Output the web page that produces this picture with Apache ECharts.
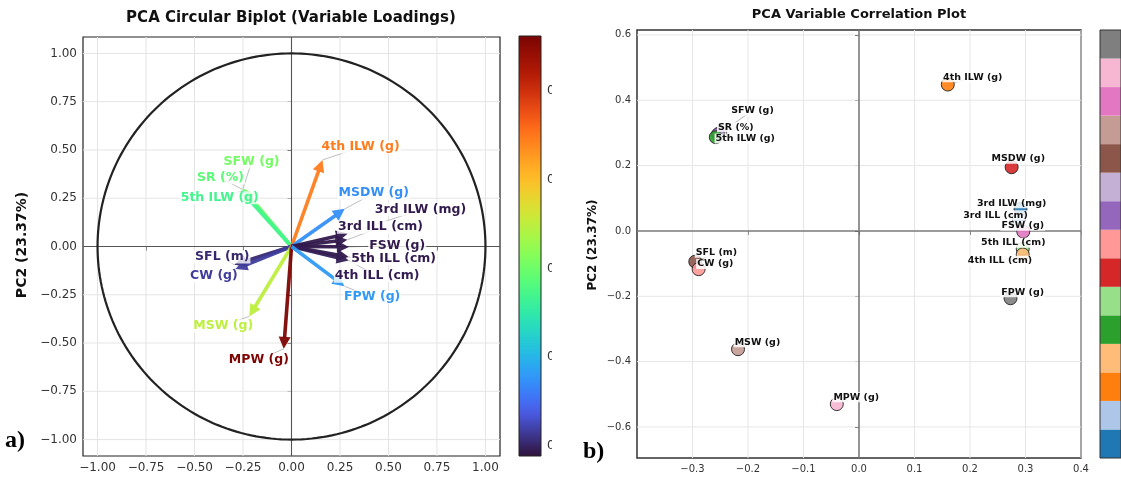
<!DOCTYPE html>
<html><head><meta charset="utf-8">
<script src="https://cdn.jsdelivr.net/npm/echarts@6/dist/echarts.min.js"></script>
<style>html,body{margin:0;padding:0;background:#fff}#c{width:1121px;height:477px}</style>
</head><body><div id="c"></div>
<script>
// ---------------- DATA ----------------
const variables = ['SFW (g)','SR (%)','5th ILW (g)','SFL (m)','CW (g)','MSW (g)','MPW (g)','4th ILW (g)','MSDW (g)','3rd ILW (mg)','3rd ILL (cm)','FSW (g)','5th ILL (cm)','4th ILL (cm)','FPW (g)'];
const pc1 = [-0.250,-0.254,-0.258,-0.295,-0.289,-0.218,-0.040,0.160,0.275,0.291,0.288,0.296,0.295,0.295,0.273];
const pc2 = [0.300,0.296,0.287,-0.094,-0.117,-0.362,-0.530,0.448,0.195,0.067,0.035,-0.002,-0.055,-0.072,-0.206];
const colorVals = [0.305,0.287,0.270,0.104,0.117,0.349,0.560,0.446,0.173,0.094,0.094,0.094,0.094,0.096,0.181];
const categoryIndex = [9,8,4,10,7,11,13,2,6,0,1,12,5,3,14];
// label anchor positions (data units) for each panel
const biplotLabelX = [-0.206,-0.366,-0.370,-0.357,-0.400,-0.352,-0.168,0.356,0.424,0.665,0.459,0.545,0.527,0.442,0.416];
const biplotLabelY = [0.437,0.356,0.252,-0.055,-0.154,-0.410,-0.587,0.515,0.276,0.190,0.100,0.005,-0.064,-0.154,-0.262];
const corrLabelX = [-0.192,-0.222,-0.205,-0.257,-0.259,-0.183,-0.005,0.205,0.287,0.275,0.246,0.295,0.278,0.254,0.295];
const corrLabelY = [0.368,0.317,0.283,-0.067,-0.101,-0.341,-0.509,0.470,0.221,0.085,0.048,0.016,-0.036,-0.091,-0.188];
const biplotTicks = [-1,-0.75,-0.5,-0.25,0,0.25,0.5,0.75,1];
const corrXTicks = [-0.3,-0.2,-0.1,0,0.1,0.2,0.3,0.4];
const corrYTicks = [-0.6,-0.4,-0.2,0,0.2,0.4,0.6];
const cbarTicks = [0.1,0.2,0.3,0.4,0.5];
const cbarMin = 0.0887, cbarMax = 0.562;
const categoryCount = 15;

// ---------------- STYLE HELPERS ----------------
const tab20 = ['#1f77b4','#aec7e8','#ff7f0e','#ffbb78','#2ca02c','#98df8a','#d62728','#ff9896','#9467bd','#c5b0d5','#8c564b','#c49c94','#e377c2','#f7b6d2','#7f7f7f'];
function turboPoly(t){
 const r=0.13572138+t*(4.61539260+t*(-42.66032258+t*(132.13108234+t*(-152.94239396+t*59.28637943))));
 const g=0.09140261+t*(2.19418839+t*(4.84296658+t*(-14.18503333+t*(4.27729857+t*2.82956604))));
 const b=0.10667330+t*(12.64194608+t*(-60.58204836+t*(110.36276771+t*(-89.90310912+t*27.34824973))));
 return [r,g,b].map(x=>255*Math.max(0,Math.min(1,x)));}
function lerp(a,b,f){return a.map((v,i)=>v+(b[i]-v)*f);}
function turbo(t){t=Math.max(0,Math.min(1,t)); let c;
 if(t<0.1){c=lerp([48,18,59],turboPoly(0.1),t/0.1);}
 else if(t>0.92){c=lerp(turboPoly(0.92),[122,4,3],(t-0.92)/0.08);}
 else c=turboPoly(t);
 return 'rgb('+c.map(v=>Math.round(v)).join(',')+')';}
function cmap(v){return turbo((v-cbarMin)/(cbarMax-cbarMin));}
function fmt(v,d){const s=Math.abs(v).toFixed(d);return (v<-1e-9?'\u2212':'')+s;}
const FONT='DejaVu Sans';

function gridLines(xi, ticks, vertical, color, zeroColor, w, zw){
 return {type:'custom', xAxisIndex:xi, yAxisIndex:xi, z:1, silent:true,
  data: ticks.map(v=>[v]),
  renderItem:(params,api)=>{
   const cs=params.coordSys; const v=api.value(0);
   const isZero=Math.abs(v)<1e-9;
   let shape;
   if(vertical){const x=api.coord([v,0])[0]; shape={x1:x,y1:cs.y,x2:x,y2:cs.y+cs.height};}
   else{const y=api.coord([0,v])[1]; shape={x1:cs.x,y1:y,x2:cs.x+cs.width,y2:y};}
   return {type:'line', shape, z2: isZero?5:0, style:{stroke:isZero?zeroColor:color, lineWidth:isZero?zw:w}};
  }};
}

const chart = echarts.init(document.getElementById('c'), null, {renderer:'canvas'});

const biplotData = variables.map((n,i)=>[pc1[i],pc2[i],colorVals[i],biplotLabelX[i],biplotLabelY[i]]);
const corrData = variables.map((n,i)=>[pc1[i],pc2[i],categoryIndex[i],corrLabelX[i],corrLabelY[i]]);

const axisBase = {axisLine:{show:false}, splitLine:{show:false}};

const option = {
 animation:false,
 backgroundColor:'#ffffff',
 grid:[
  {left:83, top:37, width:417, height:419, show:true, borderColor:'#222', borderWidth:1.2, backgroundColor:'transparent'},
  {left:637, top:30, width:444, height:428, show:true, borderColor:'#333', borderWidth:1.5, backgroundColor:'transparent'},
  {left:519, top:36, width:22, height:420},
  {left:1100, top:30, width:30, height:428}
 ],
 xAxis:[
  Object.assign({gridIndex:0, type:'value', min:-1.075, max:1.075,
   axisTick:{show:true, customValues:biplotTicks, length:4, lineStyle:{color:'#222'}},
   axisLabel:{customValues:biplotTicks, formatter:v=>fmt(v,2), color:'#333', fontSize:12, fontFamily:FONT, margin:6}}, axisBase),
  Object.assign({gridIndex:1, type:'value', min:-0.4, max:0.4,
   axisTick:{show:true, customValues:corrXTicks, length:4, lineStyle:{color:'#333'}},
   axisLabel:{customValues:corrXTicks, formatter:v=>fmt(v,1), color:'#333', fontSize:10, fontFamily:FONT, margin:6}}, axisBase),
  {gridIndex:2, type:'value', min:0, max:1, show:false},
  {gridIndex:3, type:'value', min:0, max:1, show:false}
 ],
 yAxis:[
  Object.assign({gridIndex:0, type:'value', min:-1.085, max:1.085,
   axisTick:{show:true, customValues:biplotTicks, length:4, lineStyle:{color:'#222'}},
   axisLabel:{customValues:biplotTicks, formatter:v=>fmt(v,2), color:'#333', fontSize:12, fontFamily:FONT, margin:6}}, axisBase),
  Object.assign({gridIndex:1, type:'value', min:-0.695, max:0.615,
   axisTick:{show:true, customValues:corrYTicks, length:4, lineStyle:{color:'#333'}},
   axisLabel:{customValues:corrYTicks, formatter:v=>fmt(v,1), color:'#333', fontSize:10, fontFamily:FONT, margin:6}}, axisBase),
  Object.assign({gridIndex:2, type:'value', min:cbarMin, max:cbarMax, position:'right',
   axisTick:{show:true, customValues:cbarTicks, length:4, lineStyle:{color:'#333'}},
   axisLabel:{customValues:cbarTicks, formatter:v=>v.toFixed(1), color:'#333', fontSize:12, fontFamily:FONT, margin:6}}, axisBase),
  {gridIndex:3, type:'value', min:0, max:categoryCount, show:false}
 ],
 series:[
  gridLines(0, biplotTicks, true, '#e4e4e4', '#555', 1, 1.1),
  gridLines(0, biplotTicks, false, '#e4e4e4', '#555', 1, 1.1),
  // unit circle
  {type:'custom', xAxisIndex:0, yAxisIndex:0, z:2, silent:true, data:[[1]],
   renderItem:(params,api)=>{const r=api.value(0);const pts=[];for(let k=0;k<=240;k++){const a=k/240*2*Math.PI;pts.push(api.coord([r*Math.cos(a),r*Math.sin(a)]));}
    return {type:'polyline', shape:{points:pts}, style:{stroke:'#222', lineWidth:2.2, fill:null}};}},
  // arrows
  {type:'custom', xAxisIndex:0, yAxisIndex:0, z:3, silent:true, data:biplotData,
   renderItem:(params,api)=>{
    const o=api.coord([0,0]); const p=api.coord([api.value(0),api.value(1)]);
    const dx=p[0]-o[0], dy=p[1]-o[1]; const L=Math.hypot(dx,dy); const ux=dx/L, uy=dy/L;
    const hl=12, hw=6; const bx=p[0]-ux*hl, by=p[1]-uy*hl; const c=cmap(api.value(2));
    return {type:'group', children:[
     {type:'line', shape:{x1:o[0],y1:o[1],x2:bx+ux*1,y2:by+uy*1}, style:{stroke:c,lineWidth:3.6,opacity:0.95}},
     {type:'polygon', shape:{points:[[p[0],p[1]],[bx-uy*hw,by+ux*hw],[bx+uy*hw,by-ux*hw]]}, style:{fill:c,opacity:0.95}}
    ]};}},
  // leader lines (biplot)
  {type:'custom', xAxisIndex:0, yAxisIndex:0, z:4, silent:true, data:biplotData,
   renderItem:(params,api)=>{const p=api.coord([api.value(0),api.value(1)]); const q=api.coord([api.value(3),api.value(4)]);
    return {type:'line', shape:{x1:p[0],y1:p[1],x2:q[0],y2:q[1]}, style:{stroke:'#777',lineWidth:0.8,opacity:0.6}};}},
  // labels (biplot)
  {type:'custom', xAxisIndex:0, yAxisIndex:0, z:5, silent:true, data:biplotData,
   renderItem:(params,api)=>{const q=api.coord([api.value(3),api.value(4)]);
    return {type:'text', x:q[0], y:q[1], style:{text:variables[params.dataIndex], fill:cmap(api.value(2)), font:'bold 12.5px "DejaVu Sans"', align:'center', verticalAlign:'middle', backgroundColor:'rgba(255,255,255,0.8)', padding:[0,1]}};}},

  // right panel
  gridLines(1, corrXTicks, true, '#e6e6e6', '#7a7a7a', 1, 1.6),
  gridLines(1, corrYTicks, false, '#e6e6e6', '#7a7a7a', 1, 1.6),
  {type:'custom', xAxisIndex:1, yAxisIndex:1, z:3, silent:true, data:corrData,
   renderItem:(params,api)=>{const p=api.coord([api.value(0),api.value(1)]); const q=api.coord([api.value(3),api.value(4)]);
    return {type:'line', shape:{x1:p[0],y1:p[1],x2:q[0],y2:q[1]}, style:{stroke:'#777',lineWidth:0.8,opacity:0.7}};}},
  {type:'scatter', xAxisIndex:1, yAxisIndex:1, z:4, silent:true, symbolSize:13,
   data: corrData.map(d=>({value:[d[0],d[1]], itemStyle:{color:tab20[d[2]]}})),
   itemStyle:{borderColor:'#222', borderWidth:1, opacity:0.9}},
  {type:'custom', xAxisIndex:1, yAxisIndex:1, z:5, silent:true, data:corrData,
   renderItem:(params,api)=>{const q=api.coord([api.value(3),api.value(4)]);
    return {type:'text', x:q[0], y:q[1], style:{text:variables[params.dataIndex], fill:'#111', font:'bold 9.5px "DejaVu Sans"', align:'center', verticalAlign:'middle', backgroundColor:'rgba(255,255,255,0.85)', padding:[0,1]}};}},

  // turbo colorbar
  {type:'custom', xAxisIndex:2, yAxisIndex:2, z:3, silent:true, data:[[cbarMin,cbarMax]],
   renderItem:(params,api)=>{const a=api.coord([0,api.value(1)]); const b=api.coord([1,api.value(0)]);
    const stops=[];for(let k=0;k<=50;k++){stops.push({offset:k/50,color:turbo(k/50)});}
    return {type:'rect', shape:{x:a[0],y:a[1],width:b[0]-a[0],height:b[1]-a[1]}, style:{fill:new echarts.graphic.LinearGradient(0,1,0,0,stops), stroke:'#222', lineWidth:1}};}},
  // tab20 categorical colorbar
  {type:'custom', xAxisIndex:3, yAxisIndex:3, z:3, silent:true, data:tab20.slice(0,categoryCount).map((c,i)=>[i]),
   renderItem:(params,api)=>{const i=api.value(0); const a=api.coord([0,i+1]); const b=api.coord([1,i]);
    return {type:'rect', shape:{x:a[0],y:a[1],width:b[0]-a[0],height:b[1]-a[1]}, style:{fill:tab20[i], stroke:null}};}},
  {type:'custom', xAxisIndex:3, yAxisIndex:3, z:4, silent:true, data:[[0,categoryCount]],
   renderItem:(params,api)=>{const a=api.coord([0,api.value(1)]); const b=api.coord([1,api.value(0)]);
    return {type:'rect', shape:{x:a[0],y:a[1],width:b[0]-a[0],height:b[1]-a[1]}, style:{fill:null, stroke:'#333', lineWidth:1}};}}
 ],
 graphic:[
  {type:'rect', z:100, shape:{x:552,y:60,width:36,height:400}, style:{fill:'#fff'}},
  {type:'text', z:101, x:291, y:18, style:{text:'PCA Circular Biplot (Variable Loadings)', font:'bold 15px "DejaVu Sans"', fill:'#111', align:'center', verticalAlign:'middle'}},
  {type:'text', z:101, x:859, y:15, style:{text:'PCA Variable Correlation Plot', font:'bold 13px "DejaVu Sans"', fill:'#111', align:'center', verticalAlign:'middle'}},
  {type:'text', z:101, x:22, y:245, rotation:Math.PI/2, style:{text:'PC2 (23.37%)', font:'bold 14px "DejaVu Sans"', fill:'#111', align:'center', verticalAlign:'middle'}},
  {type:'text', z:101, x:593, y:245, rotation:Math.PI/2, style:{text:'PC2 (23.37%)', font:'bold 12px "DejaVu Sans"', fill:'#111', align:'center', verticalAlign:'middle'}},
  {type:'text', z:101, x:5, y:441, style:{text:'a)', font:'bold 24px "Liberation Serif"', fill:'#000', align:'left', verticalAlign:'middle'}},
  {type:'text', z:101, x:583, y:452, style:{text:'b)', font:'bold 24px "Liberation Serif"', fill:'#000', align:'left', verticalAlign:'middle'}}
 ]
};
chart.setOption(option);
</script>
</body></html>
